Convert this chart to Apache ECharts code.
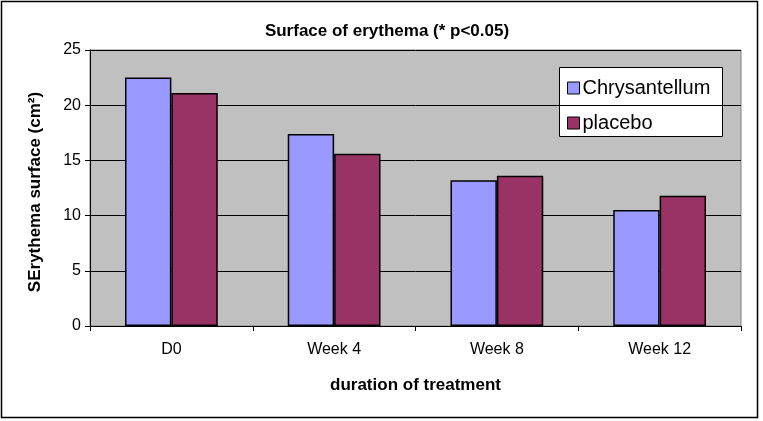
<!DOCTYPE html>
<html><head><meta charset="utf-8">
<script src="https://cdn.jsdelivr.net/npm/echarts@6/dist/echarts.min.js"></script>
<style>html,body{margin:0;padding:0;background:#fff}#c{width:763px;height:421px}</style>
</head><body><div id="c"></div>
<script>
const categories = ['D0', 'Week 4', 'Week 8', 'Week 12'];
const chrysantellum = [22.5, 17.4, 13.2, 10.5];
const placebo = [21.1, 15.6, 13.6, 11.8];
const yTicks = [0, 5, 10, 15, 20, 25];

const chart = echarts.init(document.getElementById('c'));
const font = 'Liberation Sans, Arial, sans-serif';
chart.setOption({
  animation: false,
  backgroundColor: '#fff',
  graphic: [
    {type:'rect', shape:{x:1.5,y:1.5,width:756,height:416}, style:{fill:'none', stroke:'#000', lineWidth:1.5}, silent:true},
    {type:'rect', z: 0, shape:{x:559.5,y:67.5,width:163,height:69}, style:{fill:'#fff', stroke:'#000', lineWidth:1}, silent:true}
  ],
  title: {text: 'Surface of erythema (* p<0.05)', left: 382, top: 18, textAlign: 'center',
    textStyle: {fontFamily: font, fontSize: 17, fontWeight: 'bold', color: '#000'}},
  legend: {data: ['Chrysantellum', 'placebo'], orient: 'vertical', left: 559, top: 67, z: 10,
    padding: [11, 10, 6, 8], itemGap: 15, itemWidth: 12, itemHeight: 12, icon: 'rect', itemStyle: {borderColor:'#000', borderWidth: 1},
    textStyle: {fontFamily: font, fontSize: 20, color: '#000', padding: [0,0,0,-2]}},
  grid: {left: 90, right: 22, top: 50, bottom: 95, show: true, backgroundColor: '#c0c0c0', borderColor: '#808080', borderWidth: 1},
  xAxis: {type: 'category', data: categories, name: 'duration of treatment', nameLocation: 'middle', nameGap: 51,
    nameTextStyle: {fontFamily: font, fontSize: 17, fontWeight: 'bold', color: '#000'},
    axisLine: {lineStyle: {color: '#000', width: 1}}, axisTick: {show: true, length: 5, lineStyle:{color:'#000'}},
    axisLabel: {fontFamily: font, fontSize: 16, color: '#000', margin: 16}},
  yAxis: {type: 'value', min: 0, max: 25, interval: 5, name: 'SErythema surface (cm²)', nameLocation: 'middle', nameGap: 46,
    nameTextStyle: {fontFamily: font, fontSize: 17, fontWeight: 'bold', color: '#000', padding: [0, 0, 0, -8]},
    axisLine: {show: true, lineStyle: {color: '#000', width: 1}}, axisTick: {show: true, length: 5, lineStyle:{color:'#000'}},
    axisLabel: {fontFamily: font, fontSize: 16, color: '#000', margin: 9, formatter: v => yTicks.includes(v) ? String(v) : ''},
    splitLine: {show: true, lineStyle: {color: '#000', width: 1}}},
  series: [
    {name: 'Chrysantellum', type: 'bar', data: chrysantellum, barGap: '0%', barCategoryGap: '43%',
      itemStyle: {color: '#9999ff', borderColor: '#000', borderWidth: 1.5}},
    {name: 'placebo', type: 'bar', data: placebo,
      itemStyle: {color: '#993366', borderColor: '#000', borderWidth: 1.5}}
  ]
});
</script></body></html>
